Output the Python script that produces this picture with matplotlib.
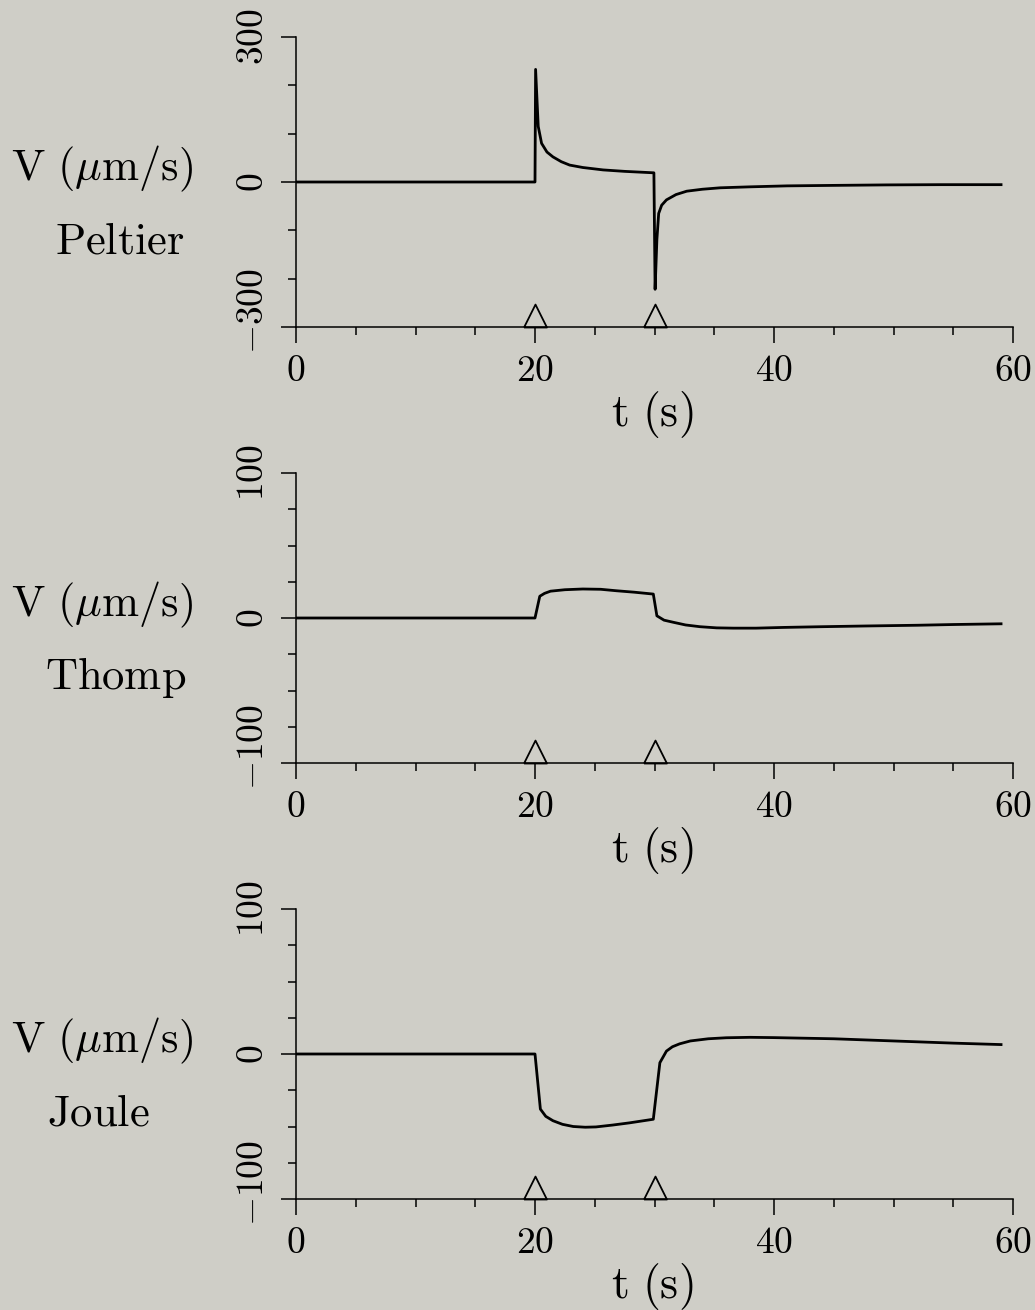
import numpy as np
import matplotlib
matplotlib.use("Agg")
import matplotlib.pyplot as plt
from matplotlib.transforms import ScaledTranslation

plt.rcParams["mathtext.fontset"] = "cm"

# Valores (t en s, V en um/s)
peltier_t = [0, 20.0, 20.05, 20.27, 20.55, 21.0, 21.5, 22.2, 22.9, 24.0, 25.7, 27.5, 29.95,
             30.05, 30.2, 30.35, 30.6, 31.0, 31.8, 32.7, 34.0, 35.5, 38.0, 41.1, 45.0, 49.4, 54.0, 59.0]
peltier_v = [0, 0, 233, 115, 80, 62, 52, 42, 35, 30, 25, 22, 19,
             -222, -119, -65, -48, -37, -26, -19, -15, -12, -10, -8, -7, -6, -5.5, -5.5]

thomp_t = [0, 20.0, 20.4, 20.8, 21.3, 22.5, 24.0, 25.5, 26.8, 28.3, 29.9, 30.2, 30.8, 31.6,
           32.6, 33.8, 35.2, 36.6, 38.5, 40.8, 44.0, 47.7, 52.0, 55.0, 59.0]
thomp_v = [0, 0, 15, 17, 18.5, 19.5, 20, 19.8, 18.8, 17.8, 16.5, 1.5, -1.5, -3,
           -4.8, -6, -6.8, -7, -7, -6.5, -6, -5.5, -5, -4.5, -4]

joule_t = [0, 20.0, 20.45, 20.9, 21.5, 22.3, 23.2, 24.2, 25.1, 26.5, 27.9, 29.9, 30.45, 31.0,
           31.5, 32.1, 33.0, 34.5, 36.0, 38.0, 40.0, 45.0, 50.0, 55.0, 59.0]
joule_v = [0, 0, -38, -43, -46, -48.5, -50, -50.5, -50.3, -49, -47.5, -45, -6, 2,
           5, 7, 9, 10.5, 11.2, 11.5, 11.3, 10.5, 9, 7.5, 6.5]

pulsos = [20, 30]

paneles = [
    (peltier_t, peltier_v, "Peltier", 300, 100, 55),
    (thomp_t, thomp_v, "Thomp", 100, 25, 45),
    (joule_t, joule_v, "Joule", 100, 25, 47),
]

W, H = 1035, 1310
fondo = "#cfcec7"
fig = plt.figure(figsize=(W / 100, H / 100), dpi=100, facecolor=fondo)

# triangulo con la base en el punto
tri = [(-1, 0), (1, 0), (0, 2), (-1, 0)]

tops = [37, 473, 909]
for (t, v, nombre, ymax, paso, xnombre), top in zip(paneles, tops):
    ax = fig.add_axes([296 / W, 1 - (top + 290) / H, 717 / W, 290 / H])
    ax.set_facecolor(fondo)
    ax.plot(t, v, color="black", lw=2.0)
    ax.plot(pulsos, [-ymax] * len(pulsos), ls="none", marker=tri, ms=33,
            mfc="none", mec="black", mew=1.3, clip_on=False)

    ax.set_xlim(0, 60)
    ax.set_ylim(-ymax, ymax)
    ax.set_xticks([0, 20, 40, 60], labels=["$0$", "$20$", "$40$", "$60$"])
    ax.set_xticks(np.arange(0, 61, 5), minor=True)
    ax.set_yticks([-ymax, 0, ymax], labels=[f"${-ymax}$", "$0$", f"${ymax}$"])
    ax.set_yticks(np.arange(-ymax, ymax + 1, paso), minor=True)

    ax.tick_params(which="major", direction="out", length=11.5, width=1.1, pad=7, labelsize=27)
    ax.tick_params(which="minor", direction="out", length=5.5, width=1.1)
    ax.tick_params(axis="y", which="major", length=11, labelrotation=90)
    for s in ["top", "right"]:
        ax.spines[s].set_visible(False)
    for s in ["left", "bottom"]:
        ax.spines[s].set_linewidth(1.1)

    etiquetas = ax.get_yticklabels()
    for lab in etiquetas:
        lab.set_va("center")
    etiquetas[0].set_transform(etiquetas[0].get_transform()
                               + ScaledTranslation(0, 11.5 / 72, fig.dpi_scale_trans))

    ax.set_xlabel(r"$\mathrm{t\ (s)}$", fontsize=33)
    ax.xaxis.set_label_coords(0.497, -0.215)

    base = top + 143
    fig.text(11 / W, 1 - base / H, r"$\mathrm{V}\ (\mu\mathrm{m/s})$", fontsize=32,
             ha="left", va="baseline")
    fig.text(xnombre / W, 1 - (base + 73) / H, r"$\mathrm{" + nombre + "}$", fontsize=32,
             ha="left", va="baseline")

fig.savefig("out.png", dpi=100, facecolor=fondo)
